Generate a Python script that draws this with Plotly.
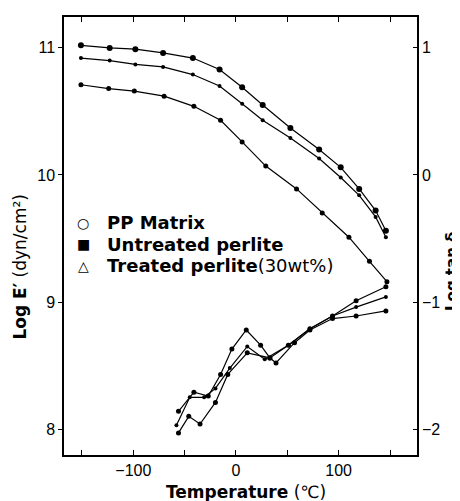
import plotly.graph_objects as go

# ---------------- data ----------------
# Log E' curves (left axis)
T_E = [-151, -123, -98, -71, -42, -16, 6, 26, 53, 81, 102, 120, 136, 146]
E_top = [11.02, 11.00, 10.99, 10.96, 10.92, 10.83, 10.69, 10.55, 10.37, 10.20, 10.06, 9.89, 9.72, 9.56]
E_mid = [10.92, 10.90, 10.87, 10.85, 10.79, 10.70, 10.56, 10.43, 10.29, 10.13, 9.98, 9.84, 9.67, 9.51]
T_E_low = [-151, -124, -99, -70, -41, -15, 6, 29, 59, 84, 110, 130, 147]
E_low = [10.71, 10.68, 10.66, 10.62, 10.54, 10.43, 10.26, 10.07, 9.89, 9.70, 9.51, 9.32, 9.16]

# Log tan delta curves (right axis)
T_dA = [-56, -41, -27, -15, -4, 10, 24, 33, 51, 72, 94, 117, 146]
D_A = [-1.86, -1.71, -1.74, -1.57, -1.37, -1.22, -1.34, -1.44, -1.34, -1.21, -1.11, -0.99, -0.88]
T_dB = [-58, -45, -31, -20, -6, 11, 28, 51, 72, 94, 117, 146]
D_B = [-1.97, -1.75, -1.75, -1.68, -1.52, -1.35, -1.45, -1.34, -1.21, -1.11, -1.04, -0.96]
T_dC = [-56, -46, -35, -20, -8, 11, 33, 39, 57, 72, 94, 117, 146]
D_C = [-2.03, -1.90, -1.96, -1.79, -1.57, -1.40, -1.44, -1.48, -1.32, -1.22, -1.13, -1.11, -1.07]

x_ticks = [-150, -100, -50, 0, 50, 100, 150]
x_ticktext = ["", "\u2212100", "", "0", "", "100", ""]
y_ticks = [8, 9, 10, 11]
y2_ticks = [-2, -1, 0, 1]
y2_ticktext = ["\u22122", "\u22121", "0", "1"]
legend_symbols = ["\u25cb", "\u25a0", "\u25b3"]
legend_labels = ["<b>PP Matrix</b>", "<b>Untreated perlite</b>", "<b>Treated perlite</b>(30wt%)"]

# ---------------- figure ----------------
fig = go.Figure()
line = dict(color="black", width=1.2)

fig.add_trace(go.Scatter(x=T_E, y=E_top, mode="lines+markers", line=line,
                         marker=dict(color="black", size=6), showlegend=False))
fig.add_trace(go.Scatter(x=T_E, y=E_mid, mode="lines+markers", line=line,
                         marker=dict(color="black", size=4), showlegend=False))
fig.add_trace(go.Scatter(x=T_E_low, y=E_low, mode="lines+markers", line=line,
                         marker=dict(color="black", size=5), showlegend=False))

fig.add_trace(go.Scatter(x=T_dA, y=D_A, mode="lines+markers", line=line, yaxis="y2",
                         marker=dict(color="black", size=5), showlegend=False))
fig.add_trace(go.Scatter(x=T_dB, y=D_B, mode="lines+markers", line=line, yaxis="y2",
                         marker=dict(color="black", size=4), showlegend=False))
fig.add_trace(go.Scatter(x=T_dC, y=D_C, mode="lines+markers", line=line, yaxis="y2",
                         marker=dict(color="black", size=5), showlegend=False))

tickfont = dict(family="Liberation Sans", size=16, color="black")

# the page has an 8px body margin, so the figure is 8px smaller on each side
fig.update_layout(
    width=452, height=493,
    margin=dict(l=56, r=43, t=7, b=46),
    paper_bgcolor="white", plot_bgcolor="white",
    xaxis=dict(range=[-167.5, 176.3], tickvals=x_ticks, ticktext=x_ticktext,
               ticks="inside", ticklen=5, tickwidth=1.2, tickcolor="black",
               showline=True, linecolor="black", linewidth=1.5, mirror="ticks",
               showgrid=False, zeroline=False, tickfont=tickfont),
    yaxis=dict(range=[7.796, 11.243], tickvals=y_ticks,
               ticks="outside", ticklen=4, tickwidth=1.2, tickcolor="black",
               showline=True, linecolor="black", linewidth=1.5,
               showgrid=False, zeroline=False, tickfont=tickfont),
    yaxis2=dict(range=[-2.204, 1.243], tickvals=y2_ticks, ticktext=y2_ticktext,
                overlaying="y", side="right",
                ticks="inside", ticklen=4, tickwidth=1.2, tickcolor="black",
                showline=True, linecolor="black", linewidth=1.5,
                showgrid=False, zeroline=False, tickfont=tickfont),
)

ann_font = dict(family="DejaVu Sans", size=17, color="black")
# legend drawn as text
leg_y = [0.530, 0.481, 0.432]
for sym, lab, yy in zip(legend_symbols, legend_labels, leg_y):
    fig.add_annotation(xref="paper", yref="paper", x=0.054, y=yy, text=sym,
                       showarrow=False, xanchor="center", yanchor="middle",
                       font=dict(family="DejaVu Sans", size=14, color="black"))
    fig.add_annotation(xref="paper", yref="paper", x=0.116, y=yy, text=lab,
                       showarrow=False, xanchor="left", yanchor="middle",
                       font=dict(family="DejaVu Sans", size=18, color="black"))

# axis titles
fig.add_annotation(xref="paper", yref="paper", x=0.516, y=-0.084,
                   text="<b>Temperature</b> (\u2103)", showarrow=False,
                   xanchor="center", yanchor="middle", font=ann_font)
fig.add_annotation(xref="paper", yref="paper", x=-0.125, y=0.43,
                   text="<b>Log E\u2032</b> (dyn/cm\u00b2)", showarrow=False, textangle=-90,
                   xanchor="center", yanchor="middle", font=ann_font)
fig.add_annotation(xref="paper", yref="paper", x=1.099, y=0.42,
                   text="<b>Log tan \u03b4</b>", showarrow=False, textangle=-90,
                   xanchor="center", yanchor="middle",
                   font=dict(family="DejaVu Sans", size=15, color="black"))

fig.write_html("out.html")
